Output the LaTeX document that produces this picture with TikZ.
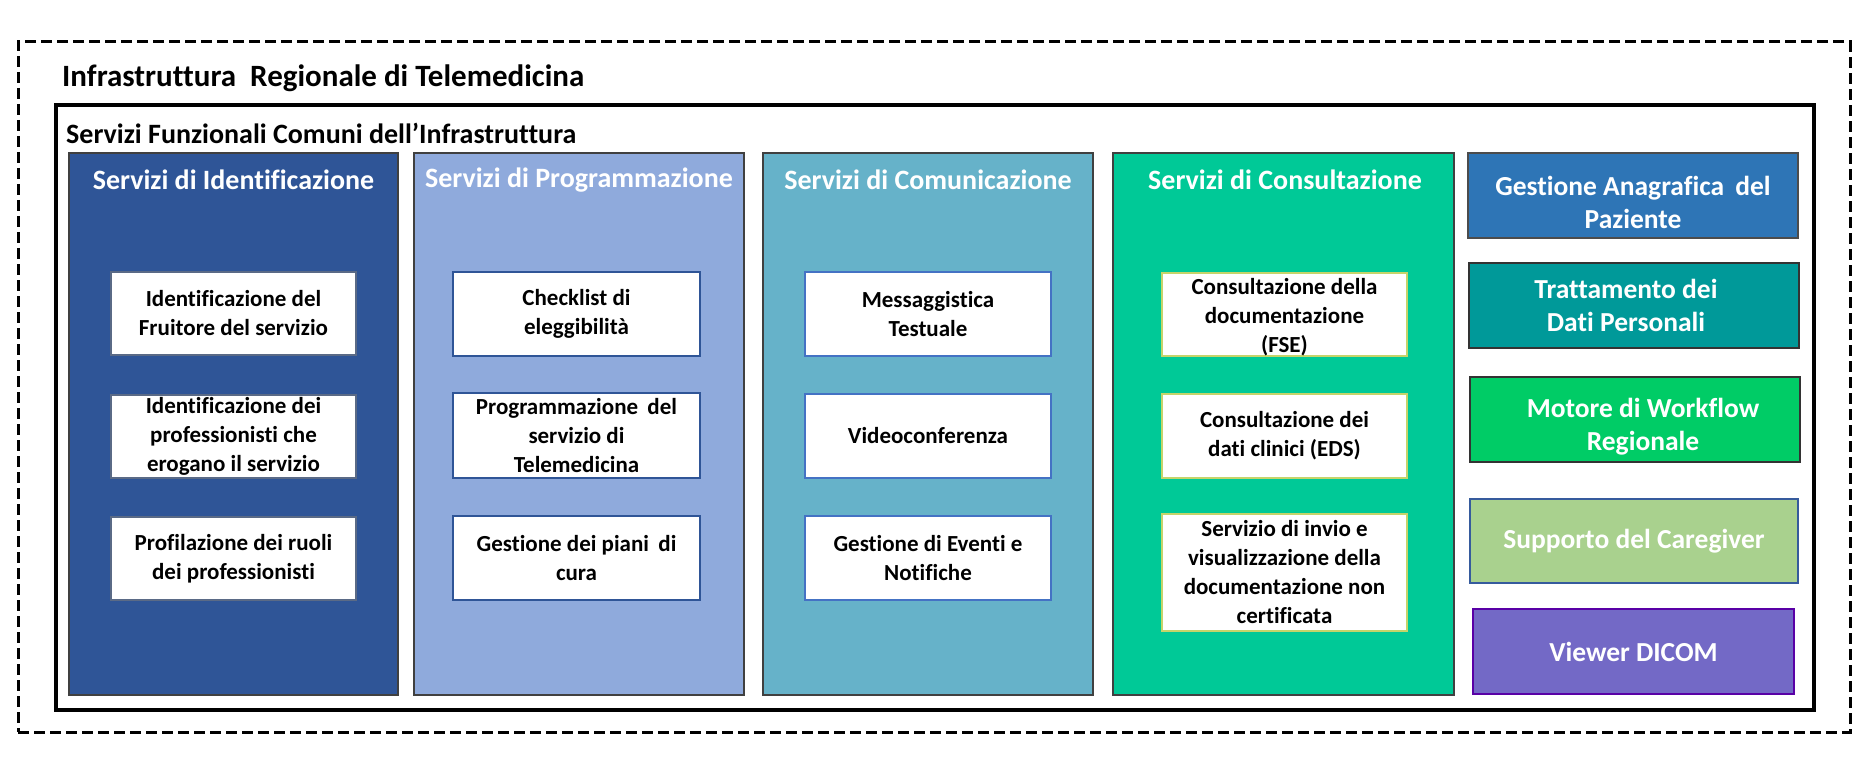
\documentclass[tikz,border=0pt]{standalone}
\usepackage{fontspec}
\setmainfont{Carlito}[Ligatures=NoCommon]
\definecolor{cA}{HTML}{2F5597}
\definecolor{cB}{HTML}{8FAADC}
\definecolor{cC}{HTML}{66B2C9}
\definecolor{cD}{HTML}{00C997}
\definecolor{rA}{HTML}{2E75B6}
\definecolor{rB}{HTML}{009999}
\definecolor{rC}{HTML}{00CC66}
\definecolor{rD}{HTML}{A9D18E}
\definecolor{rE}{HTML}{7369C6}
\definecolor{bdA}{HTML}{5A6A86}
\definecolor{bdB}{HTML}{2F5597}
\definecolor{bdC}{HTML}{4472C4}
\definecolor{bdD}{HTML}{C5D46A}
\newcommand{\rbox}[7]{%
  \node[#6, minimum width={(#4)-(#2)}, minimum height={(#5)-(#3)}] (#1) at ({((#2)+(#4))/2},{((#3)+(#5))/2}) {#7};}
\newcommand{\wsp}{\ \hspace{0.18em}}
\begin{document}
\begin{tikzpicture}[x=1pt,y=-1pt,
  colbox/.style={draw=black!75, line width=1.3pt, inner sep=0pt, outer sep=0pt},
  inbox/.style={fill=white, line width=1.2pt, inner sep=0pt, outer sep=0pt, align=center,
     text=black, font=\fontsize{23}{29}\selectfont\bfseries},
  rightbox/.style={line width=1.4pt, inner sep=0pt, outer sep=0pt, align=center,
     text=white, font=\fontsize{27.5}{33}\selectfont\bfseries},
  rtext/.style={align=center, text=white, inner sep=0pt, font=\fontsize{27.5}{33}\selectfont\bfseries},
  header/.style={text=white, font=\fontsize{28}{32}\selectfont\bfseries, inner sep=0pt},
  titletext/.style={text=black, anchor=west, inner sep=0pt}
]
\useasboundingbox (0,0) rectangle (1869,770);
% outer dashed frame
\node[draw=black, line width=3pt, dash pattern=on 11pt off 5pt, minimum width=1832pt, minimum height=690pt, inner sep=0pt] (outer) at (934,387) {};
\node[titletext, font=\fontsize{31}{36}\selectfont\bfseries] (title) at (62,78) {Infrastruttura\ \ Regionale di Telemedicina};
% inner solid frame
\node[draw=black, line width=3.5pt, minimum width=1758pt, minimum height=605pt, inner sep=0pt] (inner) at (935,407.5) {};
\node[titletext, font=\fontsize{28}{32}\selectfont\bfseries] (subtitle) at (66,133) {Servizi Funzionali Comuni dell’Infrastruttura};
% columns
\rbox{col1}{69}{153}{398}{695}{colbox, fill=cA}{}
\rbox{col2}{414}{153}{744}{695}{colbox, fill=cB}{}
\rbox{col3}{763}{153}{1093}{695}{colbox, fill=cC}{}
\rbox{col4}{1113}{153}{1454}{695}{colbox, fill=cD}{}
\node[header] (h1) at (233.5,180) {Servizi di Identificazione};
\node[header] (h2) at (579,180) {Servizi di Programmazione};
\node[header] (h3) at (928,180) {Servizi di Comunicazione};
\node[header] (h4) at (1285,180) {Servizi di Consultazione};
% column 1
\rbox{a1}{111}{272}{356}{355}{inbox, draw=bdA}{Identificazione del\\Fruitore del servizio}
\rbox{a2}{111}{395}{356}{478}{inbox, draw=bdA}{Identificazione dei\\professionisti che\\erogano il servizio}
\rbox{a3}{111}{517}{356}{600}{inbox, draw=bdA}{Profilazione dei ruoli\\dei professionisti}
% column 2
\rbox{b1}{453}{272}{700}{356}{inbox, draw=bdB}{Checklist di\\eleggibilità}
\rbox{b2}{453}{393}{700}{478}{inbox, draw=bdB}{Programmazione\wsp del\\servizio di\\Telemedicina}
\rbox{b3}{453}{516}{700}{600}{inbox, draw=bdB}{Gestione dei piani\wsp di\\cura}
% column 3
\rbox{c1}{805}{272}{1051}{356}{inbox, draw=bdC}{Messaggistica\\Testuale}
\rbox{c2}{805}{394}{1051}{478}{inbox, draw=bdC}{Videoconferenza}
\rbox{c3}{805}{516}{1051}{600}{inbox, draw=bdC}{Gestione di Eventi e\\Notifiche}
% column 4
\rbox{d1}{1162}{273}{1407}{356}{inbox, draw=bdD}{}
\node[inbox, fill=none, draw=none] (d1t) at ([yshift=-3pt]d1.center) {Consultazione della\\documentazione\\(FSE)};
\rbox{d2}{1162}{394}{1407}{478}{inbox, draw=bdD}{Consultazione dei\\dati clinici (EDS)}
\rbox{d3}{1162}{514}{1407}{631}{inbox, draw=bdD}{Servizio di invio e\\visualizzazione della\\documentazione non\\certificata}
% right boxes
\rbox{r1}{1468}{153}{1798}{238}{rightbox, fill=rA, draw=black!70}{}
\node[rtext] (r1t) at ([yshift=-7pt]r1.center) {Gestione Anagrafica\wsp del\\Paziente};
\rbox{r2}{1469}{263}{1799}{348}{rightbox, fill=rB, draw=black!80}{}
\node[rtext] (r2t) at ([xshift=-8pt]r2.center) {Trattamento dei\\Dati Personali};
\rbox{r3}{1470}{377}{1800}{462}{rightbox, fill=rC, draw=black!80}{}
\node[rtext] (r3t) at ([xshift=8pt,yshift=-7pt]r3.center) {Motore di Workflow\\Regionale};
\rbox{r4}{1470}{499}{1798}{583}{rightbox, fill=rD, draw=bdC!80!black}{Supporto del Caregiver}
\rbox{r5}{1473}{609}{1794}{694}{rightbox, fill=rE, draw=violet!70!blue}{Viewer DICOM}
\end{tikzpicture}
\end{document}
